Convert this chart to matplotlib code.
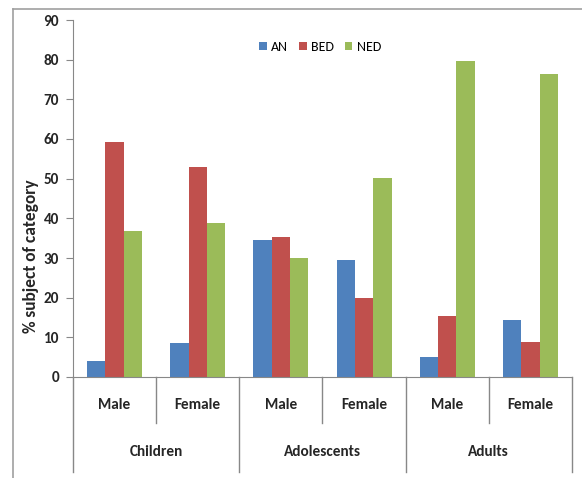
import matplotlib
matplotlib.use("Agg")
import matplotlib.pyplot as plt
import matplotlib.transforms as mtransforms
from matplotlib.lines import Line2D
import numpy as np

plt.rcParams['font.family'] = ['Carlito', 'Liberation Sans Narrow', 'DejaVu Sans']

groups = ["Children", "Adolescents", "Adults"]
sexes = ["Male", "Female"]
series = ["AN", "BED", "NED"]
an = [4.0, 8.6, 34.5, 29.6, 5.0, 14.4]
bed = [59.3, 52.9, 35.2, 19.9, 15.4, 8.9]
ned = [36.7, 38.7, 29.9, 50.2, 79.7, 76.5]
colors = ["#4F81BD", "#C0504D", "#9BBB59"]
yticks = [0, 10, 20, 30, 40, 50, 60, 70, 80, 90]

W, H = 582, 478
fig = plt.figure(figsize=(W / 100, H / 100), dpi=100)
ax = fig.add_axes([73 / W, 1 - 377 / H, (572 - 73) / W, (377 - 20) / H])

x = np.arange(len(an))
bw = 0.22
for i, (vals, c) in enumerate(zip([an, bed, ned], colors)):
    ax.bar(x + (i - 1) * bw, vals, bw, color=c, label=series[i], zorder=2)

ax.set_xlim(-0.5, len(an) - 0.5)
ax.set_ylim(0, 90)
ax.set_yticks(yticks)
ax.set_yticklabels([str(t) for t in yticks], fontsize=11, fontweight='bold', color='#262626')
ax.tick_params(axis='y', direction='out', length=5, color='#888888', pad=5)
ax.set_xticks([])
for s in ['top', 'right']:
    ax.spines[s].set_visible(False)
for s in ['left', 'bottom']:
    ax.spines[s].set_color('#888888')

# two-level category axis below the plot
trans = mtransforms.blended_transform_factory(ax.transData, ax.transAxes)
short_y = -46 / 357
long_y = -95 / 357
for k in range(len(an) + 1):
    xe = k - 0.5
    y1 = long_y if k % 2 == 0 else short_y
    ax.add_line(Line2D([xe, xe], [0, y1], transform=trans, color='#888888',
                       lw=1, clip_on=False))
for k in range(len(an)):
    ax.text(k, -28 / 357, sexes[k % 2], transform=trans, ha='center', va='center',
            fontsize=11, fontweight='bold', color='#262626')
for g, name in enumerate(groups):
    ax.text(2 * g + 0.5, -75 / 357, name, transform=trans, ha='center', va='center',
            fontsize=11, fontweight='bold', color='#262626')

fig.text(31 / W, 1 - 256 / H, "% subject of category", rotation=90, ha='center',
         va='center', fontsize=12.5, fontweight='bold', color='#262626')

fig.legend(loc='center', bbox_to_anchor=(320 / W, 1 - 47 / H), ncol=3, frameon=False,
           fontsize=10, handlelength=0.55, handleheight=0.55, handletextpad=0.3,
           columnspacing=0.8)

# outer chart frame
fig.add_artist(Line2D([13 / W, 13 / W], [0, 1 - 8.5 / H], color='#a0a0a0', lw=1.2))
fig.add_artist(Line2D([13 / W, 1], [1 - 8.5 / H, 1 - 8.5 / H], color='#a0a0a0', lw=1.2))

fig.savefig("out.png", dpi=100)
